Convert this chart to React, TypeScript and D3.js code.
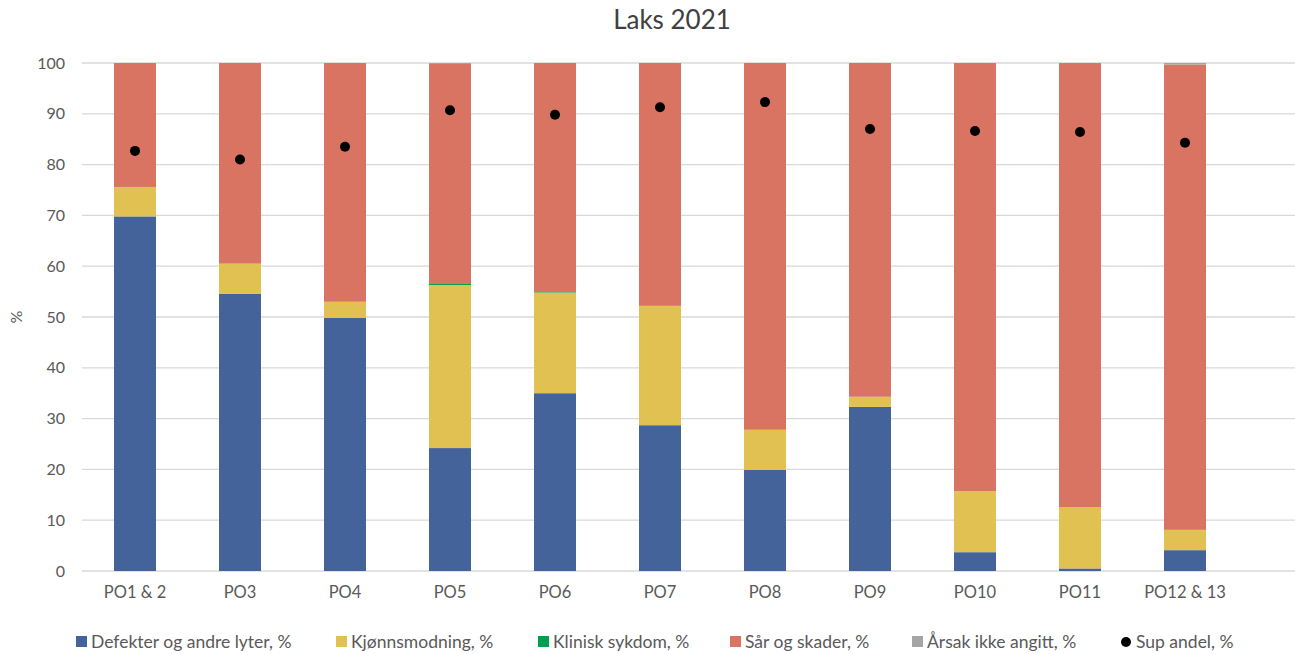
import { useEffect, useRef } from "react";
import * as d3 from "d3";

// categories (production areas)
const categories = ["PO1 & 2", "PO3", "PO4", "PO5", "PO6", "PO7", "PO8", "PO9", "PO10", "PO11", "PO12 & 13"];

// stacked series, % of total
const defekter = [69.8, 54.6, 49.8, 24.2, 35.0, 28.7, 19.9, 32.3, 3.7, 0.5, 4.1];
const kjonnsmodning = [5.8, 5.9, 3.2, 32.1, 19.8, 23.5, 7.9, 2.0, 12.0, 12.1, 4.0];
const kliniskSykdom = [0, 0, 0, 0.2, 0.1, 0, 0, 0, 0, 0, 0];
const sarOgSkader = [24.4, 39.5, 47.0, 43.3, 45.1, 47.8, 72.2, 65.7, 84.3, 87.4, 91.6];
const arsakIkkeAngitt = [0, 0, 0, 0.2, 0, 0, 0, 0, 0, 0, 0.3];

// dot series
const supAndel = [82.7, 81.0, 83.5, 90.7, 89.8, 91.3, 92.3, 87.0, 86.6, 86.4, 84.3];

const yTicks = [0, 10, 20, 30, 40, 50, 60, 70, 80, 90, 100];

const seriesNames = ["Defekter og andre lyter, %", "Kjønnsmodning, %", "Klinisk sykdom, %", "Sår og skader, %", "Årsak ikke angitt, %"];
const seriesColors = ["#44639A", "#E1C152", "#00A050", "#D97362", "#A5A5A5"];

export default function App() {
    const svgRef = useRef<SVGSVGElement>(null);

    useEffect(() => {
        const svg = d3.select(svgRef.current);
        svg.selectAll("*").remove();

        const font = "Lato, 'Open Sans', sans-serif";
        const textColor = "#595959";

        const x = d3.scaleBand<string>()
            .domain(categories)
            .range([82.5, 1237.5])
            .paddingInner(0.6)
            .paddingOuter(0.3);

        const y = d3.scaleLinear().domain([0, 100]).range([571, 63]);

        // gridlines
        svg.append("g")
            .selectAll("line")
            .data(yTicks)
            .join("line")
            .attr("x1", 82)
            .attr("x2", 1295)
            .attr("y1", d => y(d))
            .attr("y2", d => y(d))
            .attr("stroke", "#D9D9D9")
            .attr("stroke-width", 1.3);

        // y tick labels
        svg.append("g")
            .selectAll("text")
            .data(yTicks)
            .join("text")
            .attr("x", 65)
            .attr("y", d => y(d))
            .attr("dy", "0.35em")
            .attr("text-anchor", "end")
            .attr("font-family", font)
            .attr("font-size", 16)
            .attr("fill", textColor)
            .text(d => d);

        // y axis title
        svg.append("text")
            .attr("transform", `translate(22,${y(50)}) rotate(-90)`)
            .attr("text-anchor", "middle")
            .attr("font-family", font)
            .attr("font-size", 16)
            .attr("fill", textColor)
            .text("%");

        // stacked bars
        const table = categories.map((c, i) => ({
            cat: c,
            s0: defekter[i],
            s1: kjonnsmodning[i],
            s2: kliniskSykdom[i],
            s3: sarOgSkader[i],
            s4: arsakIkkeAngitt[i],
        }));
        const stack = d3.stack<any>().keys(["s0", "s1", "s2", "s3", "s4"]);
        const layers = stack(table);

        // bars are 42px wide, centered on the band
        const barW = 42;
        svg.append("g")
            .selectAll("g")
            .data(layers)
            .join("g")
            .attr("fill", (d, i) => seriesColors[i])
            .selectAll("rect")
            .data(d => d)
            .join("rect")
            .attr("x", d => x(d.data.cat)! + x.bandwidth() / 2 - barW / 2)
            .attr("width", barW)
            .attr("y", d => y(Math.min(d[1], 100)))
            .attr("height", d => Math.max(0, y(d[0]) - y(Math.min(d[1], 100))));

        // dots
        svg.append("g")
            .selectAll("circle")
            .data(supAndel)
            .join("circle")
            .attr("cx", (d, i) => x(categories[i])! + x.bandwidth() / 2)
            .attr("cy", d => y(d))
            .attr("r", 5)
            .attr("fill", "#000");

        // x labels
        svg.append("g")
            .selectAll("text")
            .data(categories)
            .join("text")
            .attr("x", d => x(d)! + x.bandwidth() / 2)
            .attr("y", 598)
            .attr("text-anchor", "middle")
            .attr("font-family", font)
            .attr("font-size", 16.5)
            .attr("fill", textColor)
            .text(d => d);

        // title
        svg.append("text")
            .attr("x", 672)
            .attr("y", 29)
            .attr("text-anchor", "middle")
            .attr("font-family", font)
            .attr("font-size", 26)
            .attr("fill", "#404040")
            .text("Laks 2021");

        // legend
        const legendX = [76, 336, 538, 730, 912];
        const legend = svg.append("g");
        seriesNames.forEach((name, i) => {
            legend.append("rect")
                .attr("x", legendX[i])
                .attr("y", 636)
                .attr("width", 11)
                .attr("height", 11)
                .attr("fill", seriesColors[i]);
            legend.append("text")
                .attr("x", legendX[i] + 15)
                .attr("y", 648)
                .attr("font-family", font)
                .attr("font-size", 17.5)
                .attr("fill", textColor)
                .text(name);
        });
        legend.append("circle")
            .attr("cx", 1126)
            .attr("cy", 642)
            .attr("r", 5)
            .attr("fill", "#000");
        legend.append("text")
            .attr("x", 1136)
            .attr("y", 648)
            .attr("font-family", font)
            .attr("font-size", 17.5)
            .attr("fill", textColor)
            .text("Sup andel, %");
    }, []);

    return (
        <svg ref={svgRef} width={1295} height={654} style={{ position: "absolute", left: 0, top: 0, background: "#fff" }} />
    );
}
